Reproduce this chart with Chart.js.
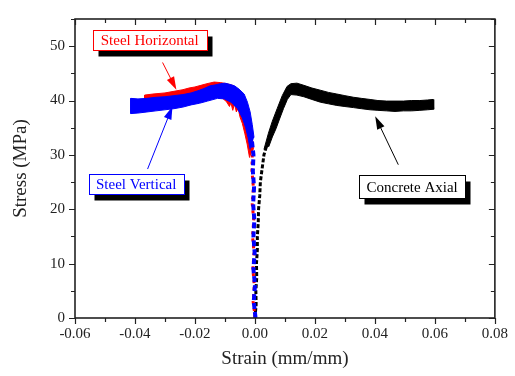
<!DOCTYPE html>
<html lang="en">
<head>
    <meta charset="UTF-8">
    <title>Stress-Strain</title>
    <script src="https://cdn.jsdelivr.net/npm/chart.js"></script>
    <style>
        body { margin: 0; background: #fff; }
        .chart-container { width: 515px; height: 376px; position: relative; }
    </style>
</head>
<body>
    <div class="chart-container">
        <canvas id="stressChart"></canvas>
    </div>

    <script>
        // Steel Vertical (blue): elastic rise, then the scattered band as an outline
        const vertRiseStrain = [0.0002, -0.0004, 0.0000, -0.0005, -0.0001, -0.0005, -0.0002, -0.0006, -0.0003, -0.0007, -0.0005, -0.0010];
        const vertRiseStress = [0, 3, 6, 9, 12, 15, 18, 21, 24, 27, 30, 32.5];
        const vertBandStrain = [-0.0003, -0.0009, -0.0016, -0.0025, -0.0036, -0.0053, -0.0068, -0.0085, -0.0100, -0.0115,
            -0.0130, -0.0150, -0.0170, -0.0190, -0.0213, -0.0240, -0.0270, -0.0300, -0.0330, -0.0360,
            -0.0390, -0.0414, -0.0414,
            -0.0390, -0.0360, -0.0330, -0.0300, -0.0270, -0.0240, -0.0213, -0.0185, -0.0158, -0.0125,
            -0.0102, -0.0080, -0.0058, -0.0042, -0.0031, -0.0023, -0.0016];
        const vertBandStress = [33.2, 35.6, 37.9, 39.7, 41.2, 42.1, 42.7, 43.0, 43.2, 43.1,
            42.9, 42.7, 42.2, 41.8, 41.4, 41.1, 40.9, 40.7, 40.6, 40.4,
            40.3, 40.4, 37.6,
            37.7, 37.9, 38.1, 38.3, 38.5, 38.8, 39.2, 39.5, 39.9, 40.4,
            40.3, 39.7, 38.5, 36.8, 35.0, 33.2, 31.0];

        // Steel Horizontal (red)
        const horzRiseStrain = [0.0001, -0.0006, -0.0002, -0.0007, -0.0003, -0.0008, -0.0004, -0.0009, -0.0005, -0.0010, -0.0009, -0.0014];
        const horzRiseStress = [0, 3, 6, 9, 12, 15, 18, 21, 24, 27, 30, 32];
        const horzBandStrain = [-0.0005, -0.0010, -0.0018, -0.0028, -0.0040, -0.0055, -0.0075, -0.0095, -0.0115, -0.0136,
            -0.0160, -0.0180, -0.0200, -0.0220, -0.0240, -0.0260, -0.0280, -0.0300, -0.0320, -0.0340,
            -0.0368, -0.0368,
            -0.0340, -0.0300, -0.0260, -0.0220, -0.0180, -0.0140, -0.0110, -0.0095, -0.0085, -0.0080,
            -0.0074, -0.0068, -0.0062, -0.0056, -0.0050, -0.0042, -0.0034, -0.0026, -0.0018];
        const horzBandStress = [31.0, 34.0, 36.8, 39.0, 40.8, 42.0, 42.8, 43.1, 43.3, 43.4,
            43.1, 42.8, 42.5, 42.3, 42.0, 41.8, 41.6, 41.4, 41.3, 41.2,
            41.0, 39.6,
            39.4, 39.5, 39.7, 40.0, 40.3, 40.6, 40.5, 39.8, 38.9, 39.6,
            38.2, 39.4, 37.9, 38.6, 37.0, 35.8, 34.0, 32.0, 29.5];

        // Concrete Axial (black)
        const concRiseStrain = [0.0000, 0.0004, 0.0003, 0.0006, 0.0005, 0.0008, 0.0008, 0.0011, 0.0012, 0.0016, 0.0018, 0.0024, 0.0030, 0.0038];
        const concRiseStress = [0, 2.5, 5, 7.5, 10, 12.5, 15, 17.5, 20, 22.5, 25, 27.5, 30, 31.5];
        const concBandStrain = [0.0030, 0.0045, 0.0058, 0.0074, 0.0091, 0.0107, 0.0120, 0.0140, 0.0163, 0.0190,
            0.0218, 0.0245, 0.0273, 0.0300, 0.0329, 0.0355, 0.0384, 0.0410, 0.0439, 0.0467,
            0.0495, 0.0522, 0.0550, 0.0575, 0.0594, 0.0596,
            0.0575, 0.0550, 0.0522, 0.0495, 0.0467, 0.0439, 0.0410, 0.0384, 0.0355, 0.0329,
            0.0300, 0.0273, 0.0245, 0.0218, 0.0190, 0.0163, 0.0140, 0.0120, 0.0108, 0.0095,
            0.0082, 0.0070, 0.0058, 0.0046];
        const concBandStress = [31.0, 34.0, 36.2, 38.5, 40.9, 42.6, 43.1, 43.2, 42.8, 42.3,
            41.9, 41.5, 41.2, 40.9, 40.6, 40.4, 40.2, 40.0, 39.9, 39.9,
            39.9, 40.0, 40.0, 40.1, 40.2, 38.4,
            38.3, 38.2, 38.1, 38.1, 38.0, 38.1, 38.2, 38.3, 38.5, 38.7,
            38.9, 39.1, 39.4, 39.7, 40.2, 40.7, 41.0, 41.1, 40.2, 38.5,
            36.6, 34.8, 33.3, 31.5];

        const xMin = -0.06, xMax = 0.08, xStep = 0.01;
        const yMin = 0, yMax = 55, yStep = 5;

        const pts = (xs, ys) => xs.map((v, i) => ({ x: v, y: ys[i] }));

        // callouts: box centre and arrow in data units
        const callouts = [
            { text: 'Steel Horizontal', color: '#ff0000', box: [-0.0351, 51.1], w: 114, h: 20, from: [-0.0308, 47.0], to: [-0.0262, 42.0] },
            { text: 'Steel Vertical', color: '#0000ff', box: [-0.0396, 24.7], w: 95, h: 20, from: [-0.0358, 27.4], to: [-0.0275, 38.9] },
            { text: 'Concrete Axial', color: '#000000', box: [0.0524, 24.1], w: 106, h: 23, from: [0.0478, 28.2], to: [0.0401, 37.1] }
        ];

        const isMajorX = v => Math.round(v * 100) % 2 === 0;
        const isMajorY = v => Math.round(v) % 10 === 0;

        const framePlugin = {
            id: 'frame',
            afterDraw(chart) {
                const { ctx, chartArea: a, scales: { x, y } } = chart;
                ctx.save();
                ctx.strokeStyle = '#222';
                ctx.lineWidth = 1.2;
                ctx.beginPath();
                x.ticks.forEach(t => {
                    const px = Math.round(x.getPixelForValue(t.value)) + 0.5;
                    const len = isMajorX(t.value) ? 6 : 4;
                    ctx.moveTo(px, a.bottom); ctx.lineTo(px, a.bottom + len);
                    ctx.moveTo(px, a.top); ctx.lineTo(px, a.top + len);
                });
                y.ticks.forEach(t => {
                    const py = Math.round(y.getPixelForValue(t.value)) + 0.5;
                    const len = isMajorY(t.value) ? 6 : 4;
                    ctx.moveTo(a.left, py); ctx.lineTo(a.left - len, py);
                    ctx.moveTo(a.right, py); ctx.lineTo(a.right - len, py);
                });
                ctx.stroke();
                ctx.lineWidth = 1.6;
                ctx.strokeRect(a.left, a.top, a.right - a.left, a.bottom - a.top);

                // callouts
                callouts.forEach(c => {
                    const fx = x.getPixelForValue(c.from[0]), fy = y.getPixelForValue(c.from[1]);
                    const tx = x.getPixelForValue(c.to[0]), ty = y.getPixelForValue(c.to[1]);
                    const ang = Math.atan2(ty - fy, tx - fx);
                    ctx.strokeStyle = c.color;
                    ctx.fillStyle = c.color;
                    ctx.lineWidth = 1;
                    ctx.beginPath();
                    ctx.moveTo(fx, fy);
                    ctx.lineTo(tx - 10 * Math.cos(ang), ty - 10 * Math.sin(ang));
                    ctx.stroke();
                    ctx.beginPath();
                    ctx.moveTo(tx, ty);
                    ctx.lineTo(tx - 13 * Math.cos(ang) + 4 * Math.sin(ang), ty - 13 * Math.sin(ang) - 4 * Math.cos(ang));
                    ctx.lineTo(tx - 13 * Math.cos(ang) - 4 * Math.sin(ang), ty - 13 * Math.sin(ang) + 4 * Math.cos(ang));
                    ctx.closePath();
                    ctx.fill();

                    const cx = x.getPixelForValue(c.box[0]), cy = y.getPixelForValue(c.box[1]);
                    const bx = Math.round(cx - c.w / 2) + 0.5, by = Math.round(cy - c.h / 2) + 0.5;
                    ctx.fillStyle = '#000';
                    ctx.fillRect(bx + 5, by + 6, c.w, c.h);
                    ctx.fillStyle = '#fff';
                    ctx.fillRect(bx, by, c.w, c.h);
                    ctx.strokeStyle = c.color;
                    ctx.strokeRect(bx, by, c.w, c.h);
                    ctx.fillStyle = c.color;
                    ctx.font = '15px "Liberation Serif"';
                    ctx.textAlign = 'center';
                    ctx.textBaseline = 'middle';
                    ctx.fillText(c.text, cx, cy + 1);
                });
                ctx.restore();
            }
        };

        Chart.defaults.font.family = '"Liberation Serif", "Times New Roman", serif';
        Chart.defaults.color = '#222';

        const rise = (label, xs, ys, color, dash, width) => ({
            label: label,
            data: pts(xs, ys),
            showLine: true,
            borderColor: color,
            backgroundColor: color,
            borderWidth: width,
            borderDash: dash,
            pointRadius: 0,
            fill: false
        });
        const band = (label, xs, ys, color) => ({
            label: label,
            data: pts(xs, ys),
            showLine: true,
            borderColor: color,
            backgroundColor: color,
            borderWidth: 1,
            pointRadius: 0,
            fill: 'shape'
        });

        new Chart(document.getElementById('stressChart'), {
            type: 'scatter',
            data: {
                datasets: [
                    band('Steel Vertical', vertBandStrain, vertBandStress, '#0000ff'),
                    rise('Steel Vertical', vertRiseStrain, vertRiseStress, '#0000ff', [6, 3], 4),
                    band('Steel Horizontal', horzBandStrain, horzBandStress, '#ff0000'),
                    rise('Steel Horizontal', horzRiseStrain, horzRiseStress, '#ff0000', [3, 4], 3),
                    band('Concrete Axial', concBandStrain, concBandStress, '#000000'),
                    rise('Concrete Axial', concRiseStrain, concRiseStress, '#000000', [4, 2], 3)
                ]
            },
            options: {
                responsive: true,
                maintainAspectRatio: false,
                animation: false,
                layout: { padding: { top: 7, right: 18, left: 0, bottom: 0 } },
                plugins: {
                    legend: { display: false },
                    tooltip: { enabled: false }
                },
                scales: {
                    x: {
                        min: xMin, max: xMax,
                        grid: { display: false, drawTicks: false },
                        border: { display: false },
                        afterFit: s => { s.height = 58; },
                        ticks: {
                            stepSize: xStep,
                            autoSkip: false,
                            maxRotation: 0,
                            padding: 7,
                            color: '#222',
                            font: { size: 15 },
                            callback: v => isMajorX(v) ? (Math.abs(v) < 1e-9 ? '0.00' : v.toFixed(2)) : ''
                        },
                        title: { display: true, text: 'Strain (mm/mm)', font: { size: 19 }, color: '#222', padding: 6 }
                    },
                    y: {
                        min: yMin, max: yMax,
                        grid: { display: false, drawTicks: false },
                        border: { display: false },
                        afterFit: s => { s.width = 75; },
                        ticks: {
                            stepSize: yStep,
                            autoSkip: false,
                            padding: 10,
                            color: '#222',
                            font: { size: 15 },
                            callback: v => isMajorY(v) ? String(Math.round(v)) : ''
                        },
                        title: { display: true, text: 'Stress (MPa)', font: { size: 19 }, color: '#222', padding: 10 }
                    }
                }
            },
            plugins: [framePlugin]
        });
    </script>
</body>
</html>
